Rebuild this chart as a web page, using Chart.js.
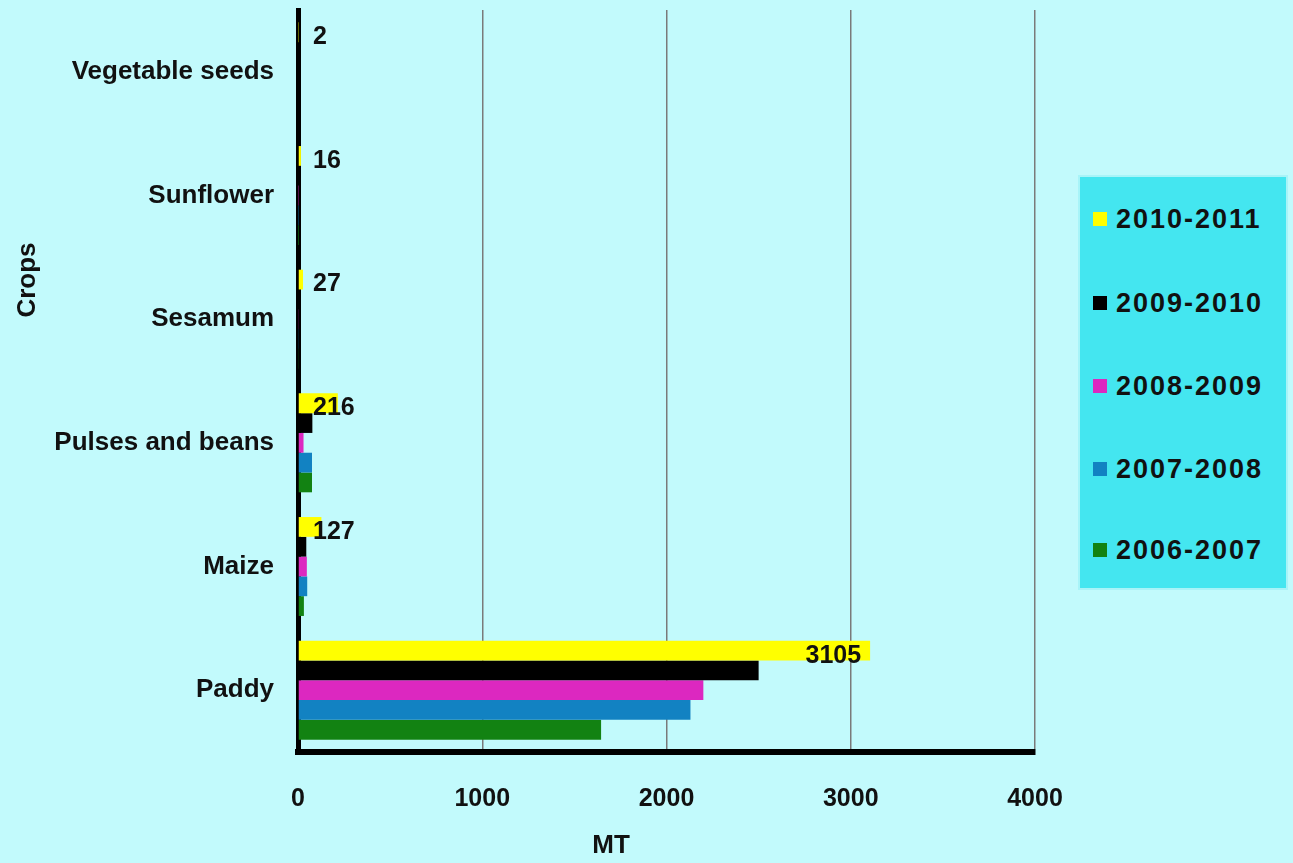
<!DOCTYPE html>
<html>
<head>
<meta charset="utf-8">
<script src="https://cdn.jsdelivr.net/npm/chart.js@4.4.0/dist/chart.umd.min.js"></script>
<style>
  html, body { margin: 0; padding: 0; background: #c2fafc; }
  #wrap { position: relative; width: 1293px; height: 863px; }
  #legend {
    position: absolute; left: 1078px; top: 175px; width: 210px; height: 415px;
    background: #44e6f0; border: 2px solid #a8f4f8; box-sizing: border-box;
    font: bold 27px "Liberation Sans", Arial, sans-serif; color: #111;
  }
  .item { position: absolute; left: 13px; letter-spacing: 2px; white-space: nowrap; }
  .sw { display: inline-block; width: 14px; height: 14px; margin-right: 9px; vertical-align: 2px; }
</style>
</head>
<body>
<div id="wrap">
  <canvas id="cropChart" width="1293" height="863"></canvas>
  <div id="legend"></div>
</div>
<script>
// Seed production by crop, MT
const crops = ['Vegetable seeds', 'Sunflower', 'Sesamum', 'Pulses and beans', 'Maize', 'Paddy'];
const seasons = ['2010-2011', '2009-2010', '2008-2009', '2007-2008', '2006-2007'];
const colors = ['#ffff00', '#000000', '#dc28c0', '#1282c2', '#128212'];

const y2010_11 = [2, 16, 27, 216, 127, 3105];
const y2009_10 = [1, 3, 10, 78, 45, 2500];
const y2008_09 = [0, 2, 5, 30, 48, 2200];
const y2007_08 = [0, 2, 5, 76, 50, 2130];
const y2006_07 = [0, 1, 5, 76, 32, 1645];

const xTicks = [0, 1000, 2000, 3000, 4000];

const font = '"Liberation Sans", Arial, sans-serif';
const seriesData = [y2010_11, y2009_10, y2008_09, y2007_08, y2006_07];

// labels on the 2010-2011 bars only
const valueLabels = {
    id: 'valueLabels',
    afterDatasetsDraw(chart) {
        const c = chart.ctx;
        const meta = chart.getDatasetMeta(0);
        const zero = chart.scales.x.getPixelForValue(0);
        c.save();
        c.font = 'bold 25px ' + font;
        c.fillStyle = '#111';
        c.textBaseline = 'middle';
        meta.data.forEach((bar, i) => {
            const v = y2010_11[i];
            if (v > 1000) {
                c.textAlign = 'right';
                c.fillText(String(v), bar.x - 9, bar.y + 6);
            } else {
                c.textAlign = 'left';
                c.fillText(String(v), zero + 15, bar.y + 5);
            }
        });
        c.restore();
    }
};

// axis titles placed like the original
const axisTitles = {
    id: 'axisTitles',
    afterDraw(chart) {
        const c = chart.ctx;
        c.save();
        c.font = 'bold 26px ' + font;
        c.fillStyle = '#111';
        c.textAlign = 'center';
        c.textBaseline = 'middle';
        c.fillText('MT', 611, 846);
        c.translate(28, 280);
        c.rotate(-Math.PI / 2);
        c.fillText('Crops', 0, 0);
        c.restore();
    }
};

const ctx = document.getElementById('cropChart').getContext('2d');

const cropChart = new Chart(ctx, {
    type: 'bar',
    data: {
        labels: crops,
        datasets: seasons.map((s, i) => ({
            label: s,
            data: seriesData[i],
            backgroundColor: colors[i],
            borderWidth: 0,
            categoryPercentage: 0.8,
            barPercentage: 1.0
        }))
    },
    options: {
        indexAxis: 'y',
        responsive: false,
        animation: false,
        layout: { padding: { top: 10, right: 258, bottom: 0, left: 0 } },
        plugins: {
            legend: { display: false },
            tooltip: { enabled: false }
        },
        scales: {
            x: {
                min: 0,
                max: 4000,
                afterFit: (scale) => { scale.height = 111; },
                afterBuildTicks: (scale) => { scale.ticks = xTicks.map(v => ({ value: v })); },
                ticks: {
                    padding: 32,
                    color: '#111',
                    font: { family: font, size: 25, weight: 'bold' },
                    callback: (v) => String(v)
                },
                grid: { color: '#7a7a7a', lineWidth: 1.5, drawTicks: false },
                border: { display: true, color: '#000', width: 6 }
            },
            y: {
                afterFit: (scale) => {
                    scale.width = 298;
                    scale.paddingTop = 0;
                    scale.paddingBottom = 0;
                },
                ticks: {
                    padding: 24,
                    color: '#111',
                    font: { family: font, size: 26, weight: 'bold' }
                },
                grid: { display: false, drawTicks: false },
                border: { display: true, color: '#000', width: 5 }
            }
        }
    },
    plugins: [valueLabels, axisTitles]
});

// legend box on the right
const legend = document.getElementById('legend');
const itemTops = [27, 111, 194, 277, 358];
seasons.forEach((s, i) => {
    const row = document.createElement('div');
    row.className = 'item';
    row.style.top = itemTops[i] + 'px';
    const sw = document.createElement('span');
    sw.className = 'sw';
    sw.style.background = colors[i];
    row.appendChild(sw);
    row.appendChild(document.createTextNode(s));
    legend.appendChild(row);
});
</script>
</body>
</html>
